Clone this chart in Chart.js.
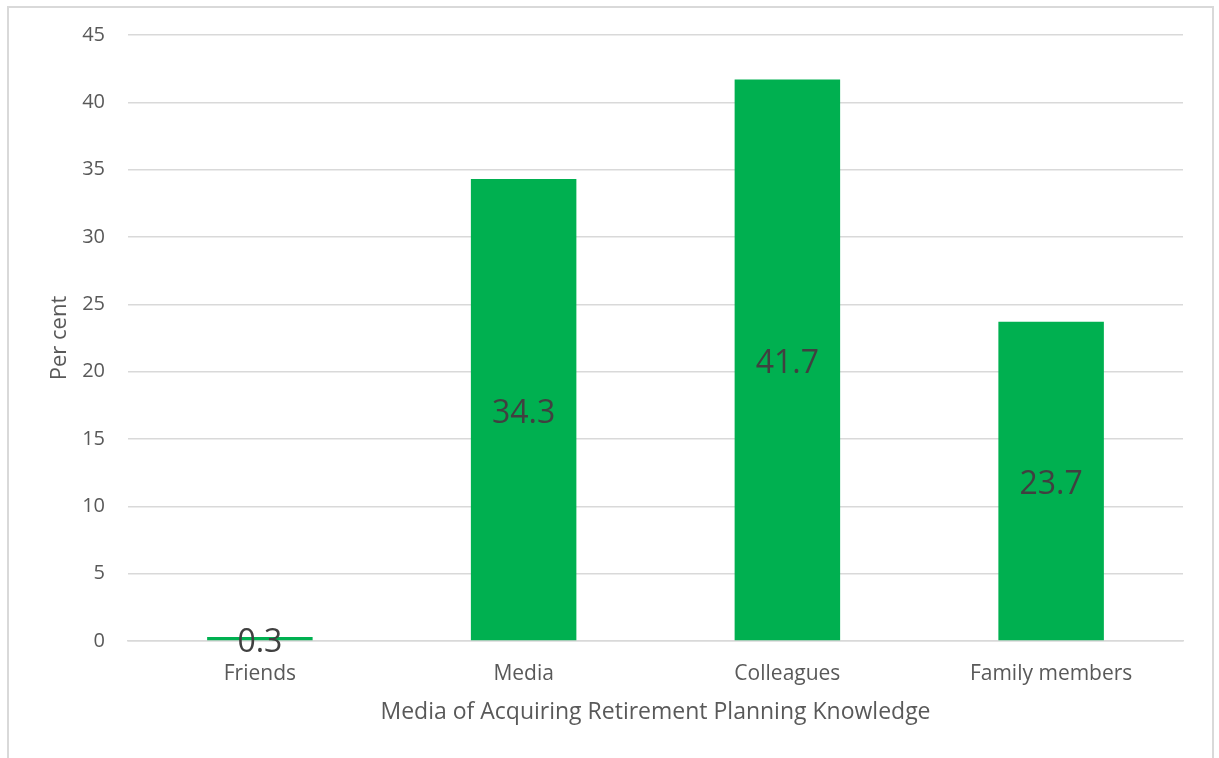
<!DOCTYPE html>
<html lang="en">

<head>
    <meta charset="UTF-8">
    <title>Media of Acquiring Retirement Planning Knowledge</title>
    <style>
        body { margin: 0; background: #fff; }
        #wrap { position: relative; width: 1219px; height: 758px; overflow: hidden; }
        #frame {
            position: absolute; left: 7px; top: 6px; width: 1203px; height: 800px;
            border: 2px solid #d9d9d9; pointer-events: none;
        }
        canvas { position: absolute; left: 0; top: 0; }
    </style>
</head>

<body>
    <div id="wrap">
        <canvas id="myChart" width="1219" height="758"></canvas>
        <div id="frame"></div>
    </div>

    <script src="https://cdn.jsdelivr.net/npm/chart.js"></script>
    <script>
        // data
        const categories = ['Friends', 'Media', 'Colleagues', 'Family members'];
        const percents = [0.3, 34.3, 41.7, 23.7];
        const yTicks = [0, 5, 10, 15, 20, 25, 30, 35, 40, 45];

        const FONT = "'Open Sans', 'DejaVu Sans', sans-serif";

        // value labels in the middle of each bar
        const barLabels = {
            id: 'barLabels',
            afterDatasetsDraw(chart) {
                const ctx = chart.ctx;
                const meta = chart.getDatasetMeta(0);
                ctx.save();
                ctx.font = '32px ' + FONT;
                ctx.fillStyle = '#404040';
                ctx.textAlign = 'center';
                ctx.textBaseline = 'middle';
                meta.data.forEach((bar, i) => {
                    const v = chart.data.datasets[0].data[i];
                    ctx.fillText(v.toFixed(1), bar.x, (bar.y + bar.base) / 2 + 4);
                });
                ctx.restore();
            }
        };

        let ctx = document.getElementById('myChart');
        new Chart(ctx, {
            type: 'bar',
            data: {
                labels: categories,
                datasets: [{
                    data: percents,
                    backgroundColor: '#00b050',
                    categoryPercentage: 1,
                    barPercentage: 0.4
                }]
            },
            options: {
                responsive: false,
                animation: false,
                layout: { padding: { top: 35, right: 36, left: 0, bottom: 0 } },
                plugins: {
                    legend: { display: false },
                    tooltip: { enabled: false }
                },
                scales: {
                    x: {
                        grid: { display: false },
                        border: { color: '#d9d9d9', width: 1.5 },
                        ticks: {
                            color: '#595959',
                            font: { family: FONT, size: 21 },
                            padding: 12
                        },
                        title: {
                            display: true,
                            text: 'Media of Acquiring Retirement Planning Knowledge',
                            color: '#595959',
                            font: { family: FONT, size: 23 },
                            padding: { top: 0, bottom: 32 }
                        },
                        afterFit(scale) { scale.height = 117; }
                    },
                    y: {
                        min: 0,
                        max: 45,
                        afterBuildTicks(scale) {
                            scale.ticks = yTicks.map(v => ({ value: v }));
                        },
                        grid: { color: '#d9d9d9', lineWidth: 1.5, drawTicks: false },
                        border: { display: false },
                        ticks: {
                            color: '#595959',
                            font: { family: FONT, size: 20 },
                            padding: 23
                        },
                        title: {
                            display: true,
                            text: 'Per cent',
                            color: '#595959',
                            font: { family: FONT, size: 22 },
                            padding: { top: 47, bottom: 0 }
                        },
                        afterFit(scale) { scale.width = 128; }
                    }
                }
            },
            plugins: [barLabels]
        });
    </script>
</body>

</html>
